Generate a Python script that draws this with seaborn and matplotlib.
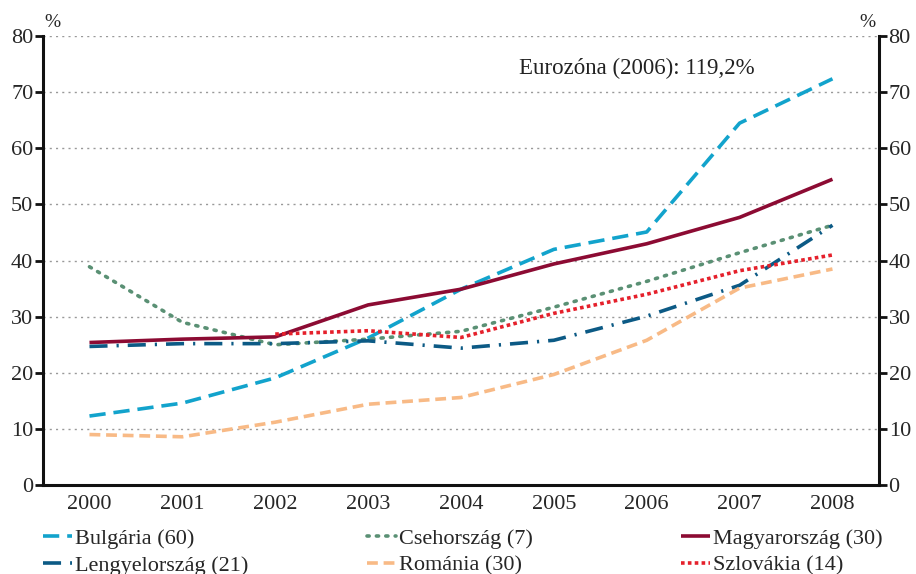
import matplotlib
matplotlib.use('Agg')
import matplotlib.pyplot as plt
import numpy as np
import pandas as pd
import seaborn as sns

YEARS = ['2000', '2001', '2002', '2003', '2004', '2005', '2006', '2007', '2008']
Y_TICKS = [0, 10, 20, 30, 40, 50, 60, 70, 80]

bulgaria = [12.3, 14.6, 19.1, 26.2, 34.9, 42.0, 45.1, 64.5, 72.4]
csehorszag = [38.9, 29.0, 25.0, 26.0, 27.4, 31.7, 36.3, 41.4, 46.3]
magyarorszag = [25.4, 26.0, 26.4, 32.1, 34.9, 39.4, 43.0, 47.7, 54.5]
lengyelorszag = [24.7, 25.2, 25.2, 25.7, 24.4, 25.8, 30.1, 35.6, 46.3]
romania = [9.0, 8.6, 11.2, 14.4, 15.6, 19.7, 25.8, 35.1, 38.5]
szlovakia = [np.nan, np.nan, 26.9, 27.5, 26.3, 30.6, 34.0, 38.2, 41.0]

SERIES = [
    ('Bulgária (60)', bulgaria),
    ('Csehország (7)', csehorszag),
    ('Magyarország (30)', magyarorszag),
    ('Lengyelország (21)', lengyelorszag),
    ('Románia (30)', romania),
    ('Szlovákia (14)', szlovakia),
]
NOTE = 'Eurozóna (2006): 119,2%'

# colour + dash pattern per series
STYLES = {
    'Bulgária (60)': ('#12A3CC', (0, (4.5, 2.2))),
    'Csehország (7)': ('#5A9074', (0, (0.6, 2.0))),
    'Magyarország (30)': ('#8C0B33', 'solid'),
    'Lengyelország (21)': ('#0C5A85', (0, (5, 2.5, 0.6, 2.5))),
    'Románia (30)': ('#F8BA86', (0, (3, 1.6))),
    'Szlovákia (14)': ('#E5202B', (0, (1.0, 0.9))),
}

sns.set_style('white')
plt.rcParams['font.family'] = ['Liberation Serif', 'DejaVu Serif']

fig = plt.figure(figsize=(9.16, 5.74), dpi=100)
ax = fig.add_axes([0.047, 0.155, 0.9125, 0.782])

x = np.arange(len(YEARS))
for name, vals in SERIES:
    color, dash = STYLES[name]
    df = pd.DataFrame({'x': x, 'y': vals}).dropna()
    sns.lineplot(data=df, x='x', y='y', ax=ax, color=color, lw=2.6,
                 label=name, solid_capstyle='butt', legend=False)
    ax.lines[-1].set_linestyle(dash)
    ax.lines[-1].set_dash_capstyle('round' if name == 'Csehország (7)' else 'butt')

ax.set_xlim(-0.5, len(YEARS) - 0.5)
ax.set_ylim(0, 80)
ax.set_xticks(x)
ax.set_xticklabels(YEARS, fontsize=16)
ax.set_xticks(np.arange(0.5, len(YEARS) - 1, 1), minor=True)
ax.tick_params(axis='x', which='major', length=0, pad=7)
ax.tick_params(axis='x', which='minor', direction='in', length=6, width=1.5, color='#222222')
ax.set_yticks(Y_TICKS)
ax.tick_params(axis='y', labelsize=16, direction='out', length=6, width=2,
               color='#111111', pad=1)
ax.set_xlabel('')
ax.set_ylabel('')
for y in Y_TICKS[1:]:
    ax.axhline(y, color='#999999', lw=1, ls=(0, (1.5, 3)), zorder=0)

for side in ['left', 'right', 'bottom']:
    ax.spines[side].set_visible(True)
    ax.spines[side].set_linewidth(2.2)
    ax.spines[side].set_color('#111111')
ax.spines['top'].set_visible(False)

ax2 = ax.twinx()
ax2.set_ylim(0, 80)
ax2.set_yticks(Y_TICKS)
ax2.tick_params(axis='y', labelsize=16, direction='out', length=6, width=2,
                color='#111111', pad=1)
for s in ax2.spines.values():
    s.set_visible(False)

ax.text(0.002, 1.012, '%', transform=ax.transAxes, fontsize=14, ha='left', va='bottom')
ax.text(0.996, 1.012, '%', transform=ax.transAxes, fontsize=14, ha='right', va='bottom')
ax.text(4.62, 74.3, NOTE, fontsize=16.5, ha='left', va='center', color='#222222')

# three single-column legends, placed like the original layout
handles, labels = ax.get_legend_handles_labels()
lookup = dict(zip(labels, handles))
columns = [(['Bulgária (60)', 'Lengyelország (21)'], 43),
           (['Csehország (7)', 'Románia (30)'], 367),
           (['Magyarország (30)', 'Szlovákia (14)'], 681)]
for names, px in columns:
    fig.legend([lookup[n] for n in names], names, loc='upper left',
               bbox_to_anchor=(px / 916, 1 - 528 / 574), frameon=False,
               fontsize=16, handlelength=1.3, handletextpad=0.15,
               labelspacing=0.3, borderpad=0, borderaxespad=0)

fig.savefig('out.png', dpi=100)
